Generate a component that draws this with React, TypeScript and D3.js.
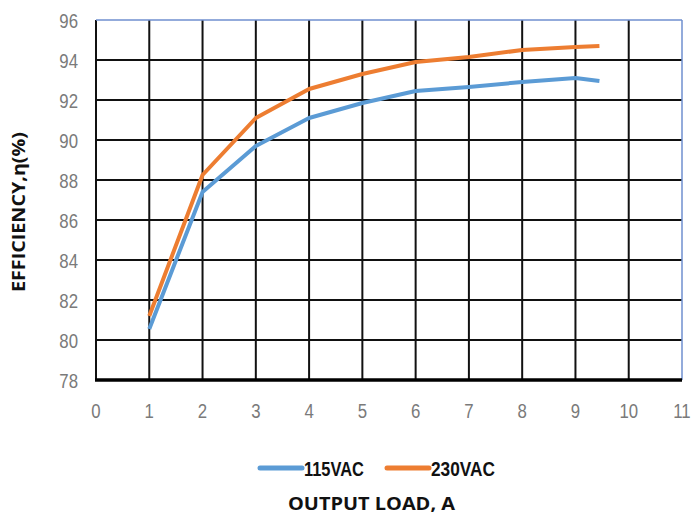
import React from "react";
import * as d3 from "d3";

const loadA = [1, 2, 3, 4, 5, 6, 7, 8, 9, 9.45];
const eff115 = [80.55, 87.4, 89.7, 91.1, 91.85, 92.45, 92.65, 92.9, 93.1, 92.95];
const eff230 = [81.2, 88.25, 91.1, 92.55, 93.3, 93.9, 94.15, 94.5, 94.65, 94.7];
const xTicks = [0, 1, 2, 3, 4, 5, 6, 7, 8, 9, 10, 11];
const yTicks = [78, 80, 82, 84, 86, 88, 90, 92, 94, 96];
const seriesNames = ["115VAC", "230VAC"];
const seriesColors = ["#5B9BD5", "#ED7D31"];

export default function App() {
  const W = 691, H = 514;
  const x = d3.scaleLinear().domain([0, 11]).range([96, 682]);
  const y = d3.scaleLinear().domain([78, 96]).range([380, 20]);
  const line = d3
    .line<[number, number]>()
    .x((d) => x(d[0]))
    .y((d) => y(d[1]));
  const series = [eff115, eff230].map((vals) => vals.map((v, i) => [loadA[i], v] as [number, number]));
  const tickFont = "'Liberation Sans', Arial, sans-serif";

  return (
    <svg width={W} height={H} style={{ position: "absolute", left: 0, top: 0, background: "#fff" }}>
      {/* grid */}
      {yTicks.slice(1, -1).map((t) => (
        <line key={"gy" + t} x1={x(0)} x2={x(11)} y1={y(t)} y2={y(t)} stroke="#111" strokeWidth={2} />
      ))}
      {xTicks.slice(0, -1).map((t) => (
        <line key={"gx" + t} x1={x(t)} x2={x(t)} y1={y(96)} y2={y(78)} stroke="#111" strokeWidth={2} />
      ))}
      {/* frame: top & right blue */}
      <line x1={x(0)} x2={x(11)} y1={y(96)} y2={y(96)} stroke="#6f8fcf" strokeWidth={1.5} />
      <line x1={x(11)} x2={x(11)} y1={y(96)} y2={y(78)} stroke="#6f8fcf" strokeWidth={1.5} />
      <line x1={x(0) - 1} x2={x(11)} y1={y(78)} y2={y(78)} stroke="#000" strokeWidth={3.5} />
      {/* y tick labels */}
      {yTicks.map((t) => (
        <text
          key={"yl" + t}
          x={78}
          y={y(t)}
          dy="0.36em"
          textAnchor="end"
          fontFamily={tickFont}
          fontSize={21}
          fill="#7a7a7a"
          transform={`translate(78,0) scale(0.8,1) translate(-78,0)`}
        >
          {t}
        </text>
      ))}
      {/* x tick labels */}
      {xTicks.map((t) => (
        <text
          key={"xl" + t}
          x={x(t)}
          y={418}
          textAnchor="middle"
          fontFamily={tickFont}
          fontSize={21}
          fill="#7a7a7a"
          transform={`translate(${x(t)},0) scale(0.8,1) translate(${-x(t)},0)`}
        >
          {t}
        </text>
      ))}
      {/* series lines */}
      {series.map((s, i) => (
        <path key={"s" + i} d={line(s) || ""} fill="none" stroke={seriesColors[i]} strokeWidth={4} strokeLinejoin="round" />
      ))}
      {/* legend */}
      <line x1={260} x2={302} y1={468} y2={468} stroke={seriesColors[0]} strokeWidth={5} strokeLinecap="round" />
      <text x={304} y={476} fontFamily={tickFont} fontWeight="bold" fontSize={21} fill="#111" textLength={60} lengthAdjust="spacingAndGlyphs">
        {seriesNames[0]}
      </text>
      <line x1={387} x2={429} y1={468} y2={468} stroke={seriesColors[1]} strokeWidth={5} strokeLinecap="round" />
      <text x={431} y={476} fontFamily={tickFont} fontWeight="bold" fontSize={21} fill="#111" textLength={64} lengthAdjust="spacingAndGlyphs">
        {seriesNames[1]}
      </text>
      {/* axis titles */}
      <text x={288} y={510} fontFamily="'Open Sans', 'Noto Sans', sans-serif" fontWeight="bold" fontSize={18} fill="#111" textLength={167} lengthAdjust="spacingAndGlyphs">
        OUTPUT LOAD, A
      </text>
      <text
        transform="translate(25,212) rotate(-90)"
        textAnchor="middle"
        fontFamily="'Open Sans', 'Noto Sans', sans-serif"
        fontWeight="bold"
        fontSize={17}
        fill="#111"
        textLength={160}
        lengthAdjust="spacingAndGlyphs"
      >
        EFFICIENCY,η(%)
      </text>
    </svg>
  );
}
